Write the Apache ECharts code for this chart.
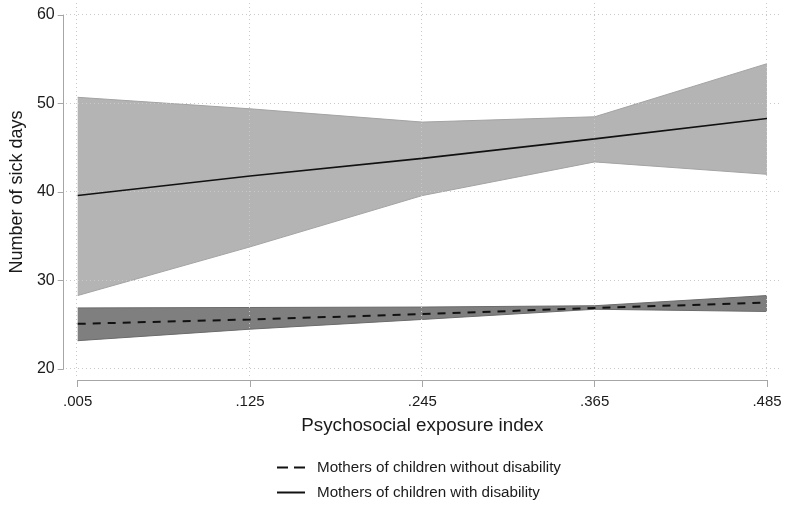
<!DOCTYPE html>
<html>
<head>
<meta charset="utf-8">
<script src="https://cdn.jsdelivr.net/npm/echarts@6/dist/echarts.min.js"></script>
<style>
html,body{margin:0;padding:0;background:#fff;}
#chart{width:789px;height:505px;}
</style>
</head>
<body>
<div id="chart"></div>
<script>
// ---- data ----
const xLabels = ['.005', '.125', '.245', '.365', '.485'];
const yTicks = [20, 30, 40, 50, 60];
const withDisability = [39.6, 41.8, 43.8, 46.0, 48.3];
const withDisabilityLower = [28.3, 33.8, 39.6, 43.4, 42.0];
const withDisabilityUpper = [50.7, 49.4, 47.9, 48.5, 54.5];
const withoutDisability = [25.1, 25.6, 26.2, 26.9, 27.5];
const withoutDisabilityLower = [23.2, 24.5, 25.6, 26.75, 26.5];
const withoutDisabilityUpper = [26.9, 26.95, 27.0, 27.15, 28.3];
const seriesNames = ['Mothers of children without disability', 'Mothers of children with disability'];

const diff = (up, lo) => up.map((v, i) => +(v - lo[i]).toFixed(3));

const FONT = '"Liberation Sans", Arial, sans-serif';
const chart = echarts.init(document.getElementById('chart'), null, {renderer: 'canvas'});

const gridDotted = {color: '#c9c9c9', width: 1, type: [1, 3]};

const option = {
  animation: false,
  backgroundColor: '#ffffff',
  grid: [
    {left: 77, right: 22, top: 15, bottom: 136, containLabel: false},
    {left: 66, right: 9, top: 1, bottom: 129, containLabel: false}
  ],
  xAxis: [
    {
      gridIndex: 0,
      type: 'category',
      data: xLabels,
      boundaryGap: false,
      offset: 11,
      axisLine: {show: true, lineStyle: {color: '#a6a6a6', width: 1}},
      axisTick: {show: true, length: 7, alignWithLabel: true, lineStyle: {color: '#a6a6a6'}},
      axisLabel: {color: '#1a1a1a', fontSize: 15, fontFamily: FONT, margin: 14},
      splitLine: {show: false},
      name: 'Psychosocial exposure index',
      nameLocation: 'middle',
      nameGap: 36,
      nameTextStyle: {color: '#1a1a1a', fontSize: 18.8, fontFamily: FONT}
    },
    {
      gridIndex: 1,
      type: 'value',
      min: -0.062,
      max: 4.077,
      show: false
    }
  ],
  yAxis: [
    {
      gridIndex: 0,
      type: 'value',
      min: 20,
      max: 60,
      interval: 10,
      offset: 14,
      axisLine: {show: true, lineStyle: {color: '#a6a6a6', width: 1}},
      axisTick: {show: true, length: 6, lineStyle: {color: '#a6a6a6'}},
      axisLabel: {color: '#1a1a1a', fontSize: 16, fontFamily: FONT, margin: 9},
      splitLine: {show: false},
      name: 'Number of sick days',
      nameLocation: 'middle',
      nameGap: 34,
      nameTextStyle: {color: '#1a1a1a', fontSize: 18, fontFamily: FONT}
    },
    {
      gridIndex: 1,
      type: 'value',
      min: 19.18,
      max: 61.55,
      show: false
    }
  ],
  legend: {
    orient: 'vertical',
    left: 276,
    top: 460,
    padding: 0,
    itemWidth: 28,
    itemHeight: 14,
    itemGap: 10,
    data: [
      {name: seriesNames[0], lineStyle: {type: [11, 6], width: 2}},
      {name: seriesNames[1]}
    ],
    itemStyle: {opacity: 0},
    textStyle: {color: '#1a1a1a', fontSize: 15.2, fontFamily: FONT, padding: [0, 0, 0, 7]}
  },
  series: [
    {
      name: 'gridlines',
      type: 'line',
      xAxisIndex: 1,
      yAxisIndex: 1,
      data: [],
      z: 0,
      silent: true,
      markLine: {
        silent: true,
        symbol: ['none', 'none'],
        label: {show: false},
        lineStyle: gridDotted,
        emphasis: {disabled: true},
        data: xLabels.map((_, i) => ({xAxis: i})).concat(yTicks.map(v => ({yAxis: v})))
      }
    },
    {
      name: 'ciWithLower',
      type: 'line',
      stack: 'ciWith',
      data: withDisabilityLower,
      symbol: 'none',
      z: 2,
      lineStyle: {color: '#a3a3a3', width: 1},
      silent: true
    },
    {
      name: 'ciWithBand',
      type: 'line',
      stack: 'ciWith',
      data: diff(withDisabilityUpper, withDisabilityLower),
      symbol: 'none',
      z: 2,
      lineStyle: {color: '#a3a3a3', width: 1},
      areaStyle: {color: '#b4b4b4', opacity: 1},
      silent: true
    },
    {
      name: 'ciWithoutLower',
      type: 'line',
      stack: 'ciWithout',
      data: withoutDisabilityLower,
      symbol: 'none',
      z: 2,
      lineStyle: {color: '#6b6b6b', width: 1},
      silent: true
    },
    {
      name: 'ciWithoutBand',
      type: 'line',
      stack: 'ciWithout',
      data: diff(withoutDisabilityUpper, withoutDisabilityLower),
      symbol: 'none',
      z: 2,
      lineStyle: {color: '#6b6b6b', width: 1},
      areaStyle: {color: '#7f7f7f', opacity: 1},
      silent: true
    },
    {
      name: seriesNames[0],
      type: 'line',
      data: withoutDisability,
      symbol: 'none',
      z: 5,
      lineStyle: {color: '#111111', width: 2, type: [8, 7]},
      itemStyle: {color: '#111111'}
    },
    {
      name: seriesNames[1],
      type: 'line',
      data: withDisability,
      symbol: 'none',
      z: 5,
      lineStyle: {color: '#111111', width: 1.6},
      itemStyle: {color: '#111111'}
    }
  ]
};
chart.setOption(option);
</script>
</body>
</html>
